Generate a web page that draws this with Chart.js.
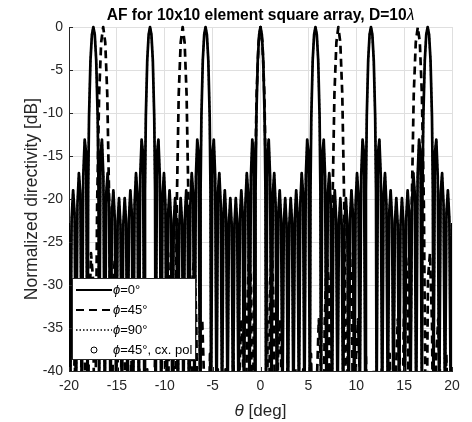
<!DOCTYPE html>
<html>
<head>
<meta charset="utf-8">
<script src="https://cdn.jsdelivr.net/npm/chart.js@4.4.1/dist/chart.umd.min.js"></script>
<style>
  html, body { margin: 0; padding: 0; background: #fff; }
  #wrap { width: 472px; height: 422px; }
</style>
</head>
<body>
<div id="wrap"><canvas id="afChart" width="472" height="422"></canvas></div>
<script>
// Values. Nulls go far below the -40 dB floor, they are given as -45 / -60.

// phi = 0 deg cut (solid): theta [deg]
const thetaPhi0 = [
  -20.18, -20.03, -19.876, -19.724, -19.571, -19.420,
  -19.268, -19.117, -18.966, -18.815, -18.663, -18.512, -18.361, -18.210,
  -18.059, -17.999, -17.908, -17.758, -17.608, -17.458, -17.308, -17.158, -17.007, -16.917,
  -16.857, -16.708, -16.558, -16.409, -16.260, -16.111, -15.962, -15.813,
  -15.664, -15.515, -15.367, -15.218, -15.070, -14.921, -14.773, -14.625,
  -14.477, -14.330, -14.182, -14.034, -13.887, -13.739, -13.592, -13.444,
  -13.297, -13.150, -13.003, -12.856, -12.709, -12.562, -12.416, -12.269,
  -12.122, -12.063, -11.976, -11.829, -11.683, -11.537, -11.391, -11.245, -11.099, -11.011,
  -10.953, -10.807, -10.661, -10.515, -10.370, -10.224, -10.079, -9.933,
  -9.788, -9.642, -9.497, -9.352, -9.207, -9.062, -8.917, -8.772,
  -8.627, -8.482, -8.337, -8.192, -8.048, -7.903, -7.758, -7.614,
  -7.470, -7.325, -7.181, -7.036, -6.892, -6.748, -6.604, -6.459,
  -6.315, -6.257, -6.171, -6.027, -5.883, -5.739, -5.595, -5.451, -5.307, -5.221,
  -5.164, -5.020, -4.876, -4.732, -4.589, -4.445, -4.301, -4.157,
  -4.014, -3.870, -3.727, -3.583, -3.440, -3.296, -3.153, -3.009,
  -2.866, -2.722, -2.579, -2.436, -2.292, -2.149, -2.006, -1.862,
  -1.719, -1.576, -1.433, -1.289, -1.146, -1.003, -0.859, -0.716,
  -0.573, -0.516, -0.430, -0.287, -0.143,
  0, 0.143, 0.287, 0.430, 0.516, 0.573,
  0.716, 0.859, 1.003, 1.146, 1.289, 1.433, 1.576, 1.719,
  1.862, 2.006, 2.149, 2.292, 2.436, 2.579, 2.722, 2.866,
  3.009, 3.153, 3.296, 3.440, 3.583, 3.727, 3.870, 4.014,
  4.157, 4.301, 4.445, 4.589, 4.732, 4.876, 5.020, 5.164,
  5.221, 5.307, 5.451, 5.595, 5.739, 5.883, 6.027, 6.171, 6.257, 6.315,
  6.459, 6.604, 6.748, 6.892, 7.036, 7.181, 7.325, 7.470,
  7.614, 7.758, 7.903, 8.048, 8.192, 8.337, 8.482, 8.627,
  8.772, 8.917, 9.062, 9.207, 9.352, 9.497, 9.642, 9.788,
  9.933, 10.079, 10.224, 10.370, 10.515, 10.661, 10.807, 10.953,
  11.011, 11.099, 11.245, 11.391, 11.537, 11.683, 11.829, 11.976, 12.063, 12.122,
  12.269, 12.416, 12.562, 12.709, 12.856, 13.003, 13.150, 13.297,
  13.444, 13.592, 13.739, 13.887, 14.034, 14.182, 14.330, 14.477,
  14.625, 14.773, 14.921, 15.070, 15.218, 15.367, 15.515, 15.664,
  15.813, 15.962, 16.111, 16.260, 16.409, 16.558, 16.708, 16.857,
  16.917, 17.007, 17.158, 17.308, 17.458, 17.608, 17.758, 17.908, 17.999, 18.059,
  18.210, 18.361, 18.512, 18.663, 18.815, 18.966, 19.117, 19.268,
  19.420, 19.571, 19.724, 19.876, 20.03, 20.18
];
// phi = 0 deg cut: normalized directivity [dB]
const dbPhi0 = [
  -19.9, -22.8, -45, -22.3, -19.0, -21.6,
  -45, -20.6, -17.0, -19.3, -45, -17.4, -13.1, -14.7,
  -45, -19.1, -10.4, -3.9, -0.9, 0, -0.9, -3.9, -10.4, -19.1,
  -45, -14.7, -13.1, -17.4, -45, -19.3, -17.0, -20.6,
  -45, -21.6, -19.0, -22.3, -45, -22.8, -19.9, -23.0,
  -45, -23.0, -19.9, -22.8, -45, -22.3, -19.0, -21.6,
  -45, -20.6, -17.0, -19.3, -45, -17.4, -13.1, -14.7,
  -45, -19.1, -10.4, -3.9, -0.9, 0, -0.9, -3.9, -10.4, -19.1,
  -45, -14.7, -13.1, -17.4, -45, -19.3, -17.0, -20.6,
  -45, -21.6, -19.0, -22.3, -45, -22.8, -19.9, -23.0,
  -45, -23.0, -19.9, -22.8, -45, -22.3, -19.0, -21.6,
  -45, -20.6, -17.0, -19.3, -45, -17.4, -13.1, -14.7,
  -45, -19.1, -10.4, -3.9, -0.9, 0, -0.9, -3.9, -10.4, -19.1,
  -45, -14.7, -13.1, -17.4, -45, -19.3, -17.0, -20.6,
  -45, -21.6, -19.0, -22.3, -45, -22.8, -19.9, -23.0,
  -45, -23.0, -19.9, -22.8, -45, -22.3, -19.0, -21.6,
  -45, -20.6, -17.0, -19.3, -45, -17.4, -13.1, -14.7,
  -45, -19.1, -10.4, -3.9, -0.9,
  0, -0.9, -3.9, -10.4, -19.1, -45,
  -14.7, -13.1, -17.4, -45, -19.3, -17.0, -20.6, -45,
  -21.6, -19.0, -22.3, -45, -22.8, -19.9, -23.0, -45,
  -23.0, -19.9, -22.8, -45, -22.3, -19.0, -21.6, -45,
  -20.6, -17.0, -19.3, -45, -17.4, -13.1, -14.7, -45,
  -19.1, -10.4, -3.9, -0.9, 0, -0.9, -3.9, -10.4, -19.1, -45,
  -14.7, -13.1, -17.4, -45, -19.3, -17.0, -20.6, -45,
  -21.6, -19.0, -22.3, -45, -22.8, -19.9, -23.0, -45,
  -23.0, -19.9, -22.8, -45, -22.3, -19.0, -21.6, -45,
  -20.6, -17.0, -19.3, -45, -17.4, -13.1, -14.7, -45,
  -19.1, -10.4, -3.9, -0.9, 0, -0.9, -3.9, -10.4, -19.1, -45,
  -14.7, -13.1, -17.4, -45, -19.3, -17.0, -20.6, -45,
  -21.6, -19.0, -22.3, -45, -22.8, -19.9, -23.0, -45,
  -23.0, -19.9, -22.8, -45, -22.3, -19.0, -21.6, -45,
  -20.6, -17.0, -19.3, -45, -17.4, -13.1, -14.7, -45,
  -19.1, -10.4, -3.9, -0.9, 0, -0.9, -3.9, -10.4, -19.1, -45,
  -14.7, -13.1, -17.4, -45, -19.3, -17.0, -20.6, -45,
  -21.6, -19.0, -22.3, -45, -22.8, -19.9
];

// phi = 45 deg cut (dashed)
const thetaPhi45 = [
  -20.27, -19.840, -19.410,
  -18.982, -18.768, -18.554, -18.341, -18.127, -17.914, -17.701, -17.488,
  -17.276, -17.191, -17.064, -16.852, -16.641, -16.430, -16.215, -16.005, -15.795, -15.668,
  -15.584, -15.374, -15.165, -14.955, -14.746, -14.537, -14.328, -14.119,
  -13.910, -13.493, -13.077, -12.662, -12.247, -11.833, -11.419, -11.006,
  -10.594, -10.388, -10.182, -9.976, -9.771, -9.565, -9.360, -9.155,
  -8.950, -8.868, -8.745, -8.540, -8.335, -8.130, -7.925, -7.721, -7.517, -7.394,
  -7.312, -7.108, -6.904, -6.700, -6.496, -6.292, -6.089, -5.885,
  -5.681, -5.274, -4.868, -4.461, -4.055, -3.649, -3.243, -2.837,
  -2.432, -2.229, -2.026, -1.824, -1.621, -1.418, -1.216, -1.013,
  -0.810, -0.729, -0.608, -0.405, -0.203,
  0, 0.203, 0.405, 0.608, 0.729, 0.810,
  1.013, 1.216, 1.418, 1.621, 1.824, 2.026, 2.229, 2.432,
  2.837, 3.243, 3.649, 4.055, 4.461, 4.868, 5.274, 5.681,
  5.885, 6.089, 6.292, 6.496, 6.700, 6.904, 7.108, 7.312,
  7.394, 7.517, 7.721, 7.925, 8.130, 8.335, 8.540, 8.745, 8.868, 8.950,
  9.155, 9.360, 9.565, 9.771, 9.976, 10.182, 10.388, 10.594,
  11.006, 11.419, 11.833, 12.247, 12.662, 13.077, 13.493, 13.910,
  14.119, 14.328, 14.537, 14.746, 14.955, 15.165, 15.374, 15.584,
  15.668, 15.795, 16.005, 16.215, 16.430, 16.641, 16.852, 17.064, 17.191, 17.276,
  17.488, 17.701, 17.914, 18.127, 18.341, 18.554, 18.768, 18.982,
  19.410, 19.840, 20.27
];
const dbPhi45 = [
  -39.8, -60, -38.0,
  -60, -41.3, -34.0, -38.5, -60, -34.7, -26.3, -29.3,
  -60, -38.2, -20.8, -7.8, -1.8, 0, -1.8, -7.8, -20.8, -38.2,
  -60, -29.3, -26.3, -34.7, -60, -38.5, -34.0, -41.3,
  -60, -38.0, -60, -39.8, -60, -39.8, -60, -38.0,
  -60, -41.3, -34.0, -38.5, -60, -34.7, -26.3, -29.3,
  -60, -38.2, -20.8, -7.8, -1.8, 0, -1.8, -7.8, -20.8, -38.2,
  -60, -29.3, -26.3, -34.7, -60, -38.5, -34.0, -41.3,
  -60, -38.0, -60, -39.8, -60, -39.8, -60, -38.0,
  -60, -41.3, -34.0, -38.5, -60, -34.7, -26.3, -29.3,
  -60, -38.2, -20.8, -7.8, -1.8,
  0, -1.8, -7.8, -20.8, -38.2, -60,
  -29.3, -26.3, -34.7, -60, -38.5, -34.0, -41.3, -60,
  -38.0, -60, -39.8, -60, -39.8, -60, -38.0, -60,
  -41.3, -34.0, -38.5, -60, -34.7, -26.3, -29.3, -60,
  -38.2, -20.8, -7.8, -1.8, 0, -1.8, -7.8, -20.8, -38.2, -60,
  -29.3, -26.3, -34.7, -60, -38.5, -34.0, -41.3, -60,
  -38.0, -60, -39.8, -60, -39.8, -60, -38.0, -60,
  -41.3, -34.0, -38.5, -60, -34.7, -26.3, -29.3, -60,
  -38.2, -20.8, -7.8, -1.8, 0, -1.8, -7.8, -20.8, -38.2, -60,
  -29.3, -26.3, -34.7, -60, -38.5, -34.0, -41.3, -60,
  -38.0, -60, -39.8
];

// phi = 90 deg cut (dotted) lies exactly on the phi = 0 curve for the square array
const thetaPhi90 = thetaPhi0;
const dbPhi90 = dbPhi0;

// phi = 45 deg cross-pol (circles): nothing above the -40 dB floor
const thetaCxPol = [];
const dbCxPol = [];

const seriesLabels = ['=0°', '=45°', '=90°', '=45°, cx. pol'];
const xTicks = [-20, 20, 5];
const yTicks = [-40, 0, 5];

const FONT = '"Liberation Sans", Arial, Helvetica, sans-serif';
const INK = '#262626';

function toXY(xs, ys) {
  if (xs.length !== ys.length) console.warn('length mismatch', xs.length, ys.length);
  return xs.map((x, i) => ({ x: x, y: ys[i] }));
}

// draws a run of text parts (each with its own font), centred on x
function drawParts(ctx, parts, x, y) {
  let total = 0;
  parts.forEach(p => { ctx.font = p.font; total += ctx.measureText(p.text).width; });
  let cx = x - total / 2;
  parts.forEach(p => {
    ctx.font = p.font;
    ctx.fillText(p.text, cx, y);
    cx += ctx.measureText(p.text).width;
  });
}

const decorPlugin = {
  id: 'decor',
  afterDraw(chart) {
    const ctx = chart.ctx;
    const a = chart.chartArea;
    const xs = chart.scales.x, ys = chart.scales.y;
    ctx.save();

    // inward tick marks on the left and bottom axes
    ctx.strokeStyle = INK;
    ctx.lineWidth = 1;
    ctx.beginPath();
    xs.ticks.forEach(t => {
      const px = Math.round(xs.getPixelForValue(t.value)) + 0.5;
      ctx.moveTo(px, a.bottom);
      ctx.lineTo(px, a.bottom - 4);
    });
    ys.ticks.forEach(t => {
      const py = Math.round(ys.getPixelForValue(t.value)) + 0.5;
      ctx.moveTo(a.left, py);
      ctx.lineTo(a.left + 4, py);
    });
    ctx.stroke();

    ctx.fillStyle = '#000';
    ctx.textBaseline = 'alphabetic';
    const midX = (a.left + a.right) / 2;

    // title
    drawParts(ctx, [
      { text: 'AF for 10x10 element square array, D=10', font: 'bold 15.6px ' + FONT },
      { text: 'λ', font: 'italic 15.6px ' + FONT }
    ], midX, 20);

    // x axis title
    ctx.fillStyle = INK;
    drawParts(ctx, [
      { text: 'θ', font: 'italic 17px ' + FONT },
      { text: ' [deg]', font: '17px ' + FONT }
    ], midX, 416);

    // y axis title
    ctx.save();
    ctx.translate(32, (a.top + a.bottom) / 2);
    ctx.rotate(-Math.PI / 2);
    ctx.textBaseline = 'middle';
    drawParts(ctx, [{ text: 'Normalized directivity [dB]', font: '17.5px ' + FONT }], 0, 0);
    ctx.restore();

    // legend box (inside the axes, lower left)
    const bx = 72, by = 278, bw = 123, bh = 81;
    ctx.fillStyle = '#fff';
    ctx.fillRect(bx, by, bw, bh);
    ctx.strokeStyle = INK;
    ctx.lineWidth = 1;
    ctx.strokeRect(bx + 0.5, by + 0.5, bw, bh);

    const rows = [290, 310, 330, 350];
    const x0 = 76, x1 = 112;
    ctx.strokeStyle = '#000';
    ctx.lineCap = 'butt';
    // solid
    ctx.lineWidth = 2; ctx.setLineDash([]);
    ctx.beginPath(); ctx.moveTo(x0, rows[0]); ctx.lineTo(x1, rows[0]); ctx.stroke();
    // dashed
    ctx.setLineDash([8, 5]);
    ctx.beginPath(); ctx.moveTo(x0, rows[1]); ctx.lineTo(x1, rows[1]); ctx.stroke();
    // dotted
    ctx.lineWidth = 1.5; ctx.setLineDash([1.5, 2]);
    ctx.beginPath(); ctx.moveTo(x0, rows[2]); ctx.lineTo(x1, rows[2]); ctx.stroke();
    ctx.setLineDash([]);
    // circle marker
    ctx.lineWidth = 1;
    ctx.beginPath(); ctx.arc((x0 + x1) / 2, rows[3], 3, 0, Math.PI * 2); ctx.stroke();

    ctx.fillStyle = '#000';
    ctx.textBaseline = 'middle';
    rows.forEach((ry, i) => {
      let tx = 113;
      ctx.font = 'italic 13px ' + FONT;
      ctx.fillText('ϕ', tx, ry);
      tx += ctx.measureText('ϕ').width;
      ctx.font = '13px ' + FONT;
      ctx.fillText(seriesLabels[i], tx, ry);
    });

    ctx.restore();
  }
};

const lineBase = {
  borderColor: '#000',
  backgroundColor: '#000',
  borderWidth: 2.7,
  pointRadius: 0,
  tension: 0,
  fill: false,
  borderJoinStyle: 'round',
  clip: { left: 0, top: 2, right: 0, bottom: 0 }
};

new Chart(document.getElementById('afChart').getContext('2d'), {
  type: 'line',
  data: {
    datasets: [
      Object.assign({}, lineBase, { label: 'ϕ=0°', data: toXY(thetaPhi0, dbPhi0), order: 3 }),
      Object.assign({}, lineBase, { label: 'ϕ=45°', data: toXY(thetaPhi45, dbPhi45), borderDash: [8, 5], order: 2 }),
      Object.assign({}, lineBase, { label: 'ϕ=90°', data: toXY(thetaPhi90, dbPhi90), borderDash: [1.5, 3], borderWidth: 2, order: 1 }),
      Object.assign({}, lineBase, { label: 'ϕ=45°, cx. pol', data: toXY(thetaCxPol, dbCxPol), showLine: false,
        pointRadius: 3, pointStyle: 'circle', backgroundColor: 'rgba(0,0,0,0)', order: 0 })
    ]
  },
  options: {
    responsive: false,
    devicePixelRatio: 1,
    animation: false,
    layout: { padding: { left: 0, right: 20, top: 27, bottom: 0 } },
    plugins: {
      legend: { display: false },
      title: { display: false },
      tooltip: { enabled: false }
    },
    scales: {
      x: {
        type: 'linear',
        min: xTicks[0],
        max: xTicks[1],
        ticks: { stepSize: xTicks[2], color: INK, padding: 7, font: { family: FONT, size: 14 } },
        grid: { color: '#dfdfdf', drawTicks: false },
        border: { display: true, color: INK, width: 1 },
        afterFit: (s) => { s.height = 51; }
      },
      y: {
        type: 'linear',
        min: yTicks[0],
        max: yTicks[1],
        ticks: { stepSize: yTicks[2], color: INK, padding: 6, font: { family: FONT, size: 14 } },
        grid: { color: '#dfdfdf', drawTicks: false },
        border: { display: true, color: INK, width: 1 },
        afterFit: (s) => { s.width = 69; }
      }
    }
  },
  plugins: [decorPlugin]
});
</script>
</body>
</html>
